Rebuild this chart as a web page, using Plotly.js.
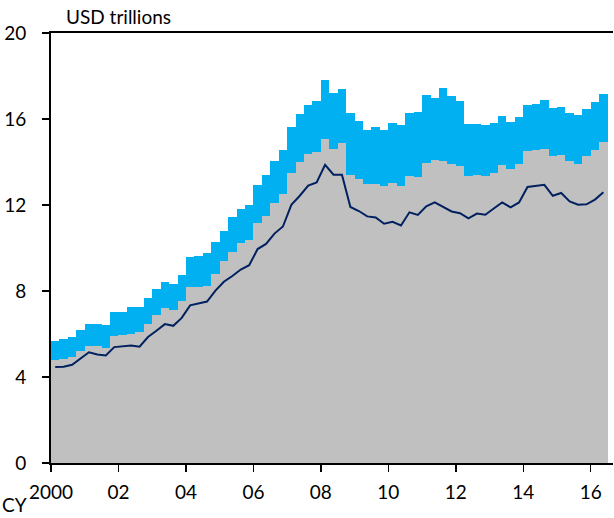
<!DOCTYPE html>
<html>
<head>
<meta charset="utf-8">
<script src="https://cdn.plot.ly/plotly-3.0.1.min.js"></script>
<style>
  html, body { margin: 0; padding: 0; background: #ffffff; }
  #chart { width: 614px; height: 518px; }
</style>
</head>
<body>
<div id="chart"></div>
<script>
const periods = [
  "2000Q1","2000Q2","2000Q3","2000Q4","2001Q1","2001Q2","2001Q3","2001Q4",
  "2002Q1","2002Q2","2002Q3","2002Q4","2003Q1","2003Q2","2003Q3","2003Q4",
  "2004Q1","2004Q2","2004Q3","2004Q4","2005Q1","2005Q2","2005Q3","2005Q4",
  "2006Q1","2006Q2","2006Q3","2006Q4","2007Q1","2007Q2","2007Q3","2007Q4",
  "2008Q1","2008Q2","2008Q3","2008Q4","2009Q1","2009Q2","2009Q3","2009Q4",
  "2010Q1","2010Q2","2010Q3","2010Q4","2011Q1","2011Q2","2011Q3","2011Q4",
  "2012Q1","2012Q2","2012Q3","2012Q4","2013Q1","2013Q2","2013Q3","2013Q4",
  "2014Q1","2014Q2","2014Q3","2014Q4","2015Q1","2015Q2","2015Q3","2015Q4",
  "2016Q1","2016Q2"
];

// grey (lower) stacked component, USD trillions
const greySeries = [
  4.80,4.86,4.93,5.22,5.46,5.44,5.33,5.91,
  5.94,6.01,6.08,6.45,6.87,7.19,7.13,7.52,
  8.17,8.20,8.25,8.80,9.38,9.81,10.23,10.35,
  11.16,11.50,12.09,12.53,13.47,13.98,14.37,14.47,
  15.07,14.62,14.90,13.41,13.20,12.96,12.99,12.87,
  13.02,12.90,13.36,13.32,13.95,14.11,14.03,13.92,
  13.83,13.36,13.41,13.33,13.49,13.87,13.67,13.92,
  14.50,14.58,14.62,14.26,14.34,14.07,13.92,14.29,
  14.57,14.93
];

// blue (upper) stacked component, USD trillions
const blueSeries = [
  0.87,0.92,0.94,0.98,1.02,1.01,1.07,1.10,
  1.10,1.25,1.16,1.21,1.22,1.25,1.20,1.24,
  1.39,1.45,1.51,1.48,1.41,1.63,1.57,1.65,
  1.78,1.91,1.94,2.04,2.16,2.27,2.28,2.37,
  2.74,2.60,2.50,2.85,2.73,2.54,2.64,2.63,
  2.81,2.83,2.93,3.00,3.15,2.89,3.39,3.16,
  3.01,2.39,2.37,2.38,2.32,2.28,2.19,2.16,
  2.13,2.13,2.28,2.25,2.22,2.21,2.26,2.19,
  2.20,2.23
];

// dark line series, USD trillions
const lineSeries = [
  4.47,4.48,4.57,4.84,5.15,5.05,5.00,5.39,
  5.41,5.46,5.41,5.86,6.15,6.46,6.38,6.75,
  7.33,7.42,7.51,8.02,8.43,8.70,9.00,9.20,
  9.95,10.19,10.67,11.00,12.01,12.43,12.90,13.05,
  13.87,13.41,13.41,11.91,11.72,11.47,11.42,11.13,
  11.22,11.05,11.66,11.54,11.94,12.12,11.92,11.70,
  11.62,11.38,11.60,11.55,11.84,12.12,11.89,12.12,
  12.84,12.88,12.94,12.43,12.56,12.17,12.01,12.03,
  12.25,12.59
];

const xTickValues = [2000, 2002, 2004, 2006, 2008, 2010, 2012, 2014, 2016];
const xTickLabels = ["2000", "02", "04", "06", "08", "10", "12", "14", "16"];
const yTickValues = [0, 4, 8, 12, 16, 20];

// position of each quarter (centre of the quarter) on a continuous year axis
const xPos = periods.map(p => {
  const yr = parseInt(p.slice(0, 4), 10);
  const q = parseInt(p.slice(5), 10);
  return yr + (q - 1) / 4 + 0.125;
});

const FONT = "Lato, 'Open Sans', sans-serif";
const FS = 19;

const traces = [
  {
    type: "bar", x: xPos, y: greySeries, width: 0.25,
    marker: { color: "#C0C0C0", line: { width: 0 } },
    hoverinfo: "skip", showlegend: false
  },
  {
    type: "bar", x: xPos, y: blueSeries, width: 0.25,
    marker: { color: "#00B0F0", line: { width: 0 } },
    hoverinfo: "skip", showlegend: false
  },
  {
    type: "scatter", mode: "lines", x: xPos, y: lineSeries,
    line: { color: "#002060", width: 2 },
    hoverinfo: "skip", showlegend: false
  }
];

const layout = {
  width: 614, height: 518,
  margin: { l: 51, r: 1, t: 33, b: 55, pad: 0 },
  paper_bgcolor: "#ffffff", plot_bgcolor: "#ffffff",
  barmode: "stack", bargap: 0,
  font: { family: FONT, size: FS, color: "#000000" },
  showlegend: false,
  xaxis: {
    type: "linear", range: [2000, 2016.66],
    tickmode: "array", tickvals: xTickValues, ticktext: xTickLabels,
    ticks: "outside", ticklen: 7, tickwidth: 1.5, tickcolor: "#000000",
    showline: true, linecolor: "#000000", linewidth: 2, mirror: true,
    showgrid: false, zeroline: false,
    ticklabelstandoff: 4,
    tickfont: { family: FONT, size: FS, color: "#000000" }
  },
  yaxis: {
    range: [0, 20],
    tickmode: "array", tickvals: yTickValues,
    ticks: "outside", ticklen: 7, tickwidth: 1.5, tickcolor: "#000000",
    showline: true, linecolor: "#000000", linewidth: 2,
    showgrid: false, zeroline: false,
    ticklabelstandoff: 12,
    tickfont: { family: FONT, size: FS, color: "#000000" }
  },
  annotations: [
    {
      text: "USD trillions", xref: "paper", yref: "paper",
      x: (64 - 51) / 562, y: (463.3 - 17) / 430,
      xanchor: "left", yanchor: "middle", showarrow: false,
      font: { family: FONT, size: FS, color: "#000000" }
    },
    {
      text: "CY", xref: "paper", yref: "paper",
      x: (29 - 51) / 562, y: (463.3 - 505) / 430,
      xanchor: "right", yanchor: "middle", showarrow: false,
      font: { family: FONT, size: FS, color: "#000000" }
    }
  ]
};

Plotly.newPlot("chart", traces, layout, { displayModeBar: false, staticPlot: true });
</script>
</body>
</html>
